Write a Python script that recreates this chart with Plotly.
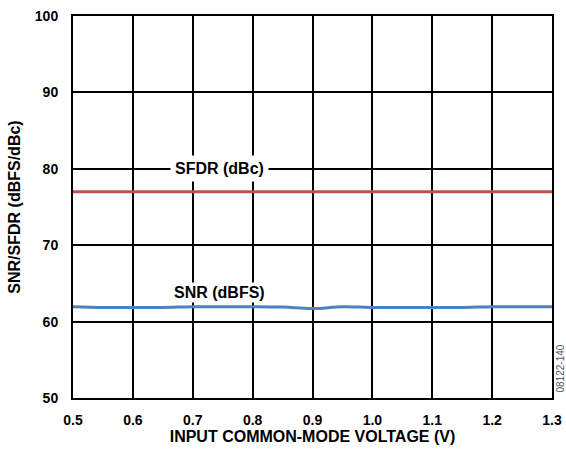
import plotly.graph_objects as go

voltage = [0.5, 0.55, 0.6, 0.65, 0.7, 0.75, 0.8, 0.85, 0.9, 0.95, 1.0, 1.05, 1.1, 1.15, 1.2, 1.25, 1.3]
sfdr = [77.0] * 17
snr = [61.95, 61.85, 61.85, 61.85, 61.95, 61.95, 61.95, 61.9, 61.7, 61.95, 61.85, 61.85, 61.85, 61.85, 61.95, 61.95, 61.95]
x_ticks = [0.5, 0.6, 0.7, 0.8, 0.9, 1.0, 1.1, 1.2, 1.3]
x_tick_labels = ["0.5", "0.6", "0.7", "0.8", "0.9", "1.0", "1.1", "1.2", "1.3"]
y_ticks = [50, 60, 70, 80, 90, 100]

font = "Liberation Sans, Arial, sans-serif"
fig = go.Figure()
fig.add_trace(go.Scatter(x=voltage, y=sfdr, mode="lines", line=dict(color="#c0504d", width=3), line_shape="spline", showlegend=False))
fig.add_trace(go.Scatter(x=voltage, y=snr, mode="lines", line=dict(color="#4f81bd", width=3), line_shape="spline", showlegend=False))

fig.add_annotation(x=0.745, y=80.0, text="<b>SFDR (dBc)</b>", showarrow=False, bgcolor="white", borderpad=4,
                   font=dict(family=font, size=16, color="black"))
fig.add_annotation(x=0.745, y=63.8, text="<b>SNR (dBFS)</b>", showarrow=False, bgcolor="white", borderpad=1,
                   font=dict(family=font, size=16, color="black"))
fig.add_annotation(xref="paper", yref="paper", x=1.0, y=0.0, text="08122-140", textangle=-90,
                   showarrow=False, xanchor="left", yanchor="bottom", xshift=0, yshift=3,
                   font=dict(family=font, size=10, color="#555"))

fig.update_layout(
    width=566, height=450,
    margin=dict(l=73, r=14, t=16, b=52),
    plot_bgcolor="white", paper_bgcolor="white",
    font=dict(family=font, size=14, color="black"),
)
fig.update_xaxes(range=[0.5, 1.3], tickvals=x_ticks, ticktext=[f"<b>{t}</b>" for t in x_tick_labels],
                 showgrid=True, gridcolor="black", gridwidth=1.5, showline=True, linecolor="black", linewidth=2,
                 mirror=True, ticks="outside", ticklen=8, tickcolor="white", zeroline=False, automargin=False,
                 ticklabeloverflow="allow",
                 title=dict(text="<b>INPUT COMMON-MODE VOLTAGE (V)</b>", standoff=4, font=dict(size=16)))
fig.update_yaxes(range=[50, 100], tickvals=y_ticks, ticktext=[f"<b>{t}</b>" for t in y_ticks],
                 showgrid=True, gridcolor="black", gridwidth=1.5, showline=True, linecolor="black", linewidth=2,
                 mirror=True, ticks="outside", ticklen=10, tickcolor="white", zeroline=False, automargin=False,
                 ticklabeloverflow="allow",
                 title=dict(text="<b>SNR/SFDR (dBFS/dBc)</b>", standoff=10, font=dict(size=16)))
# Remove the browser's default 8px body margin so the figure fills the window exactly.
fig.write_html("out.html", config={"displayModeBar": False},
               post_script="document.body.style.margin='0px';document.body.style.overflow='hidden';")
